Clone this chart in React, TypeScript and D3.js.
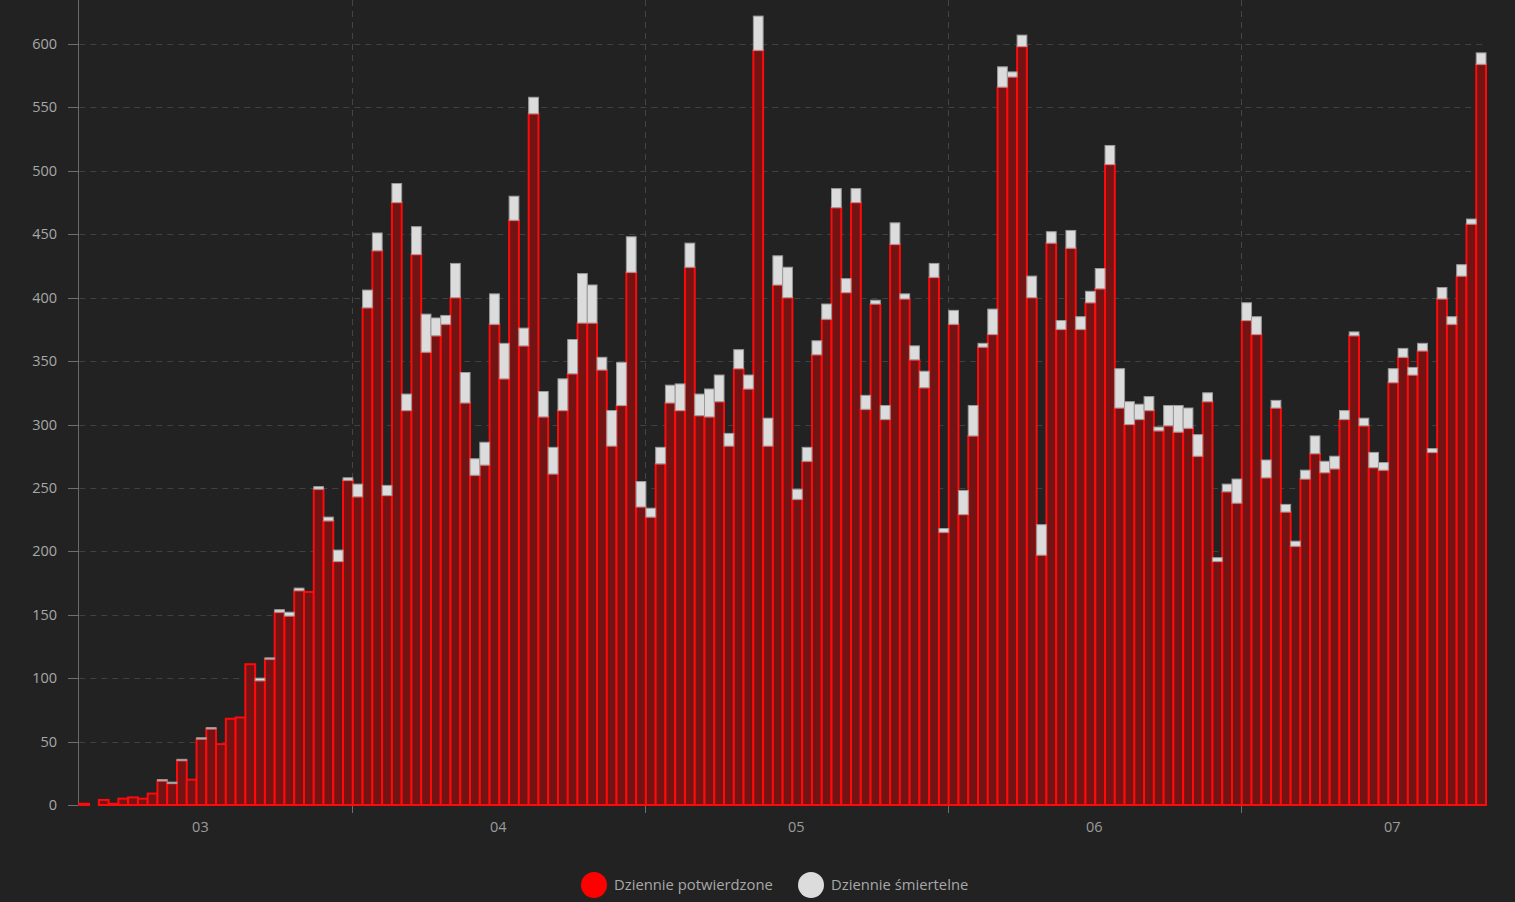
import { useEffect, useRef } from "react"
import * as d3 from "d3"

// * Daily confirmed cases, one array per month (first reported day: 2020-03-04)
const confirmedMar = [1, 0, 4, 1, 5, 6, 5, 9, 19, 17, 35, 20, 52, 60, 48, 68, 69, 111, 98, 115, 152, 149, 169, 168, 249, 224, 192, 256]
const confirmedApr = [243, 392, 437, 244, 475, 311, 434, 357, 370, 379, 400, 317, 260, 268, 379, 336, 461, 362, 545, 306, 261, 311, 340, 380, 380, 343, 283, 315, 420, 235]
const confirmedMay = [227, 269, 317, 311, 424, 307, 306, 318, 283, 344, 328, 595, 283, 410, 400, 241, 271, 355, 383, 471, 404, 475, 312, 395, 304, 442, 399, 351, 329, 416, 215]
const confirmedJun = [379, 229, 291, 361, 371, 566, 574, 598, 400, 197, 443, 375, 439, 375, 396, 407, 505, 313, 300, 304, 311, 295, 299, 294, 297, 275, 318, 192, 247, 238]
const confirmedJul = [382, 371, 258, 313, 231, 204, 257, 277, 262, 265, 304, 370, 299, 266, 264, 333, 353, 339, 358, 278, 399, 379, 417, 458, 584]

// * Daily deaths, same days
const deathsMar = [0, 0, 0, 0, 0, 0, 0, 0, 1, 1, 1, 0, 1, 1, 0, 0, 0, 0, 2, 1, 2, 3, 2, 0, 2, 3, 9, 2]
const deathsApr = [10, 14, 14, 8, 15, 13, 22, 30, 14, 7, 27, 24, 13, 18, 24, 28, 19, 14, 13, 20, 21, 25, 27, 39, 30, 10, 28, 34, 28, 20]
const deathsMay = [7, 13, 14, 21, 19, 17, 22, 21, 10, 15, 11, 27, 22, 23, 24, 8, 11, 11, 12, 15, 11, 11, 11, 3, 11, 17, 4, 11, 13, 11, 3]
const deathsJun = [11, 19, 24, 3, 20, 16, 4, 9, 17, 24, 9, 7, 14, 10, 9, 16, 15, 31, 18, 12, 11, 3, 16, 21, 16, 17, 7, 3, 6, 19]
const deathsJul = [14, 14, 14, 6, 6, 4, 7, 14, 9, 10, 7, 3, 6, 12, 6, 11, 7, 6, 6, 3, 9, 6, 9, 4, 9]

const blockStarts = ["2020-03-04", "2020-04-01", "2020-05-01", "2020-06-01", "2020-07-01"]
const confirmedBlocks = [confirmedMar, confirmedApr, confirmedMay, confirmedJun, confirmedJul]
const deathBlocks = [deathsMar, deathsApr, deathsMay, deathsJun, deathsJul]

const yTicks = [0, 50, 100, 150, 200, 250, 300, 350, 400, 450, 500, 550, 600]
const seriesLabels = ["Dziennie potwierdzone", "Dziennie śmiertelne"]
const seriesColors = ["#ff0000", "#dcdcdc"]

const WIDTH = 1515
const HEIGHT = 902
const FONT = "'Open Sans', 'Noto Sans', sans-serif"

export default function App() {
  const svgRef = useRef<SVGSVGElement>(null)

  useEffect(() => {
    if (!svgRef.current) return
    const svg = d3.select(svgRef.current)
    svg.selectAll("*").remove()

    const parse = d3.utcParse("%Y-%m-%d")
    const rows = blockStarts.flatMap((start, b) =>
      confirmedBlocks[b].map((c, k) => ({
        date: d3.utcDay.offset(parse(start) as Date, k),
        confirmed: c,
        deaths: deathBlocks[b][k],
      }))
    )

    const left = 79.3
    const right = 1486
    const bottom = 805
    const first = rows[0].date
    const end = d3.utcDay.offset(rows[rows.length - 1].date, 1)

    const x = d3.scaleUtc().domain([first, end]).range([left, right])
    const y = d3.scaleLinear().domain([0, 600]).range([bottom, 44])

    // * Background
    svg.append("rect").attr("width", WIDTH).attr("height", HEIGHT).attr("fill", "#222222")

    // * Horizontal grid
    svg
      .append("g")
      .selectAll("line")
      .data(yTicks.filter((t) => t > 0))
      .join("line")
      .attr("x1", left)
      .attr("x2", right)
      .attr("y1", (d) => Math.round(y(d)) + 0.5)
      .attr("y2", (d) => Math.round(y(d)) + 0.5)
      .attr("stroke", "#414141")
      .attr("stroke-dasharray", "6,5")

    // * Month boundaries
    const monthBounds = d3.utcMonth.range(d3.utcMonth.ceil(first), end)
    svg
      .append("g")
      .selectAll("line")
      .data(monthBounds)
      .join("line")
      .attr("x1", (d) => Math.round(x(d)) - 0.5)
      .attr("x2", (d) => Math.round(x(d)) - 0.5)
      .attr("y1", 0)
      .attr("y2", bottom)
      .attr("stroke", "#444444")
      .attr("stroke-dasharray", "6,5")

    // * Month ticks below axis
    svg
      .append("g")
      .selectAll("line")
      .data(monthBounds)
      .join("line")
      .attr("x1", (d) => Math.round(x(d)) - 0.5)
      .attr("x2", (d) => Math.round(x(d)) - 0.5)
      .attr("y1", bottom)
      .attr("y2", bottom + 8)
      .attr("stroke", "#6e6e6e")

    // * Month labels at month middles
    const months = d3.utcMonth.range(d3.utcMonth.floor(first), end)
    svg
      .append("g")
      .selectAll("text")
      .data(months)
      .join("text")
      .attr("x", (d) => (x(d) + x(d3.utcMonth.offset(d, 1))) / 2 - 1)
      .attr("y", 832)
      .attr("text-anchor", "middle")
      .attr("font-family", FONT)
      .attr("font-size", "14.5px")
      .attr("fill", "#9c9c9c")
      .text((d) => d3.utcFormat("%m")(d))

    // * Y axis line, ticks and labels
    svg
      .append("line")
      .attr("x1", 78.5)
      .attr("x2", 78.5)
      .attr("y1", 0)
      .attr("y2", bottom)
      .attr("stroke", "#6a6a6a")

    const yAxis = svg.append("g")
    yAxis
      .selectAll("line")
      .data(yTicks)
      .join("line")
      .attr("x1", 68)
      .attr("x2", 78)
      .attr("y1", (d) => Math.round(y(d)) + 0.5)
      .attr("y2", (d) => Math.round(y(d)) + 0.5)
      .attr("stroke", "#6e6e6e")
    yAxis
      .selectAll("text")
      .data(yTicks)
      .join("text")
      .attr("x", 57)
      .attr("y", (d) => y(d))
      .attr("dy", "0.35em")
      .attr("text-anchor", "end")
      .attr("font-family", FONT)
      .attr("font-size", "14.5px")
      .attr("fill", "#a8a8a8")
      .text((d) => d)

    // * Bars
    const step = x(d3.utcDay.offset(first, 1)) - x(first)
    const bars = svg.append("g")
    bars
      .selectAll("rect.confirmed")
      .data(rows)
      .join("rect")
      .attr("class", "confirmed")
      .attr("x", (d) => x(d.date))
      .attr("y", (d) => y(d.confirmed))
      .attr("width", step)
      .attr("height", (d) => y(0) - y(d.confirmed))
      .attr("fill", "#731414")
      .attr("stroke", "#ff0a0a")
      .attr("stroke-width", 2)

    bars
      .selectAll("rect.deaths")
      .data(rows)
      .join("rect")
      .attr("class", "deaths")
      .attr("x", (d) => x(d.date))
      .attr("y", (d) => y(d.confirmed + d.deaths))
      .attr("width", step)
      .attr("height", (d) => y(d.confirmed) - y(d.confirmed + d.deaths))
      .attr("fill", "#dcdcdc")
      .attr("stroke", "#9a9a9a")
      .attr("stroke-width", 1)

    // * Legend
    const legendX = [594, 811]
    const legend = svg.append("g")
    seriesLabels.forEach((label, i) => {
      legend
        .append("circle")
        .attr("cx", legendX[i])
        .attr("cy", 885)
        .attr("r", 13)
        .attr("fill", seriesColors[i])
      legend
        .append("text")
        .attr("x", legendX[i] + 20)
        .attr("y", 885)
        .attr("dy", "0.35em")
        .attr("font-family", FONT)
        .attr("font-size", "14.8px")
        .attr("fill", "#a8a8a8")
        .text(label)
    })
  }, [])

  return (
    <svg
      ref={svgRef}
      width={WIDTH}
      height={HEIGHT}
      style={{ position: "absolute", left: 0, top: 0, display: "block" }}
    ></svg>
  )
}
